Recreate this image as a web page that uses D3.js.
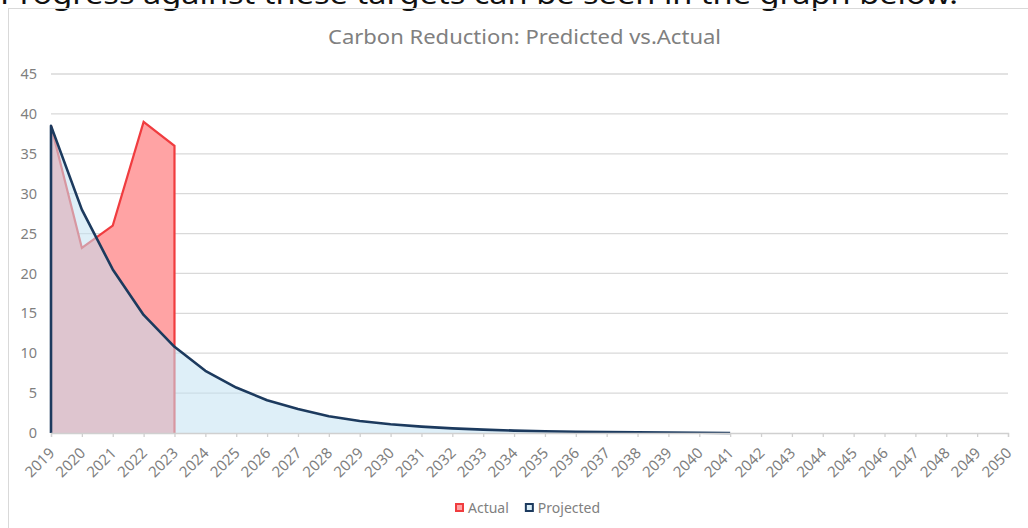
<!DOCTYPE html>
<html>
<head>
<meta charset="utf-8">
<script src="https://cdn.jsdelivr.net/npm/d3@7"></script>
<style>
  body { margin: 0; background: #fff; overflow: hidden; }
  text { font-family: "Noto Sans", "Open Sans", sans-serif; }
</style>
</head>
<body>
<div id="chart"></div>
<script>
// Tick labels / categories
var years = ["2019","2020","2021","2022","2023","2024","2025","2026","2027","2028",
  "2029","2030","2031","2032","2033","2034","2035","2036","2037","2038","2039",
  "2040","2041","2042","2043","2044","2045","2046","2047","2048","2049","2050"];

// Series values
var actualValues = [38.5, 23.2, 26, 39, 36];
var projectedValues = [38.5, 28, 20.5, 14.8, 10.8, 7.8, 5.7, 4.1, 3.0, 2.1, 1.5,
  1.1, 0.8, 0.58, 0.42, 0.3, 0.22, 0.16, 0.11, 0.08, 0.05, 0.03, 0.0];

var yTicks = [0, 5, 10, 15, 20, 25, 30, 35, 40, 45];

var W = 1028, H = 528;
var margin = {top: 74, right: 20, bottom: 95, left: 51};
var plotW = 1008 - margin.left,
    plotH = 433 - margin.top;

var svg = d3.select("#chart").append("svg")
  .attr("width", W)
  .attr("height", H);

// page text above the chart, mostly cut off
svg.append("text")
  .attr("x", 0)
  .attr("y", 4)
  .attr("font-size", 27)
  .attr("fill", "#111")
  .attr("textLength", 958)
  .attr("lengthAdjust", "spacingAndGlyphs")
  .text("Progress against these targets can be seen in the graph below.");

// chart frame
svg.append("rect")
  .attr("x", 8.5).attr("y", 8.5)
  .attr("width", 1100).attr("height", 600)
  .attr("fill", "none")
  .attr("stroke", "#d9d9d9");

svg.append("text")
  .attr("x", 328)
  .attr("y", 44)
  .attr("font-size", 20)
  .attr("fill", "#808080")
  .attr("textLength", 393)
  .attr("lengthAdjust", "spacingAndGlyphs")
  .text("Carbon Reduction: Predicted vs.Actual");

var g = svg.append("g")
  .attr("transform", "translate(" + margin.left + "," + margin.top + ")");

// Scales
var x = d3.scalePoint().domain(years).range([0, plotW]);
var y = d3.scaleLinear().domain([0, 45]).range([plotH, 0]);

// gridlines
g.selectAll(".grid").data(yTicks.slice(1)).enter()
  .append("line")
  .attr("x1", 0).attr("x2", plotW)
  .attr("y1", function(d) { return y(d); })
  .attr("y2", function(d) { return y(d); })
  .attr("stroke", "#d9d9d9")
  .attr("stroke-width", 1.3);

var actual = actualValues.map(function(v, i) { return {year: years[i], value: v}; });
var projected = projectedValues.map(function(v, i) { return {year: years[i], value: v}; });

var area = d3.area()
  .x(function(d) { return x(d.year); })
  .y0(y(0))
  .y1(function(d) { return y(d.value); });

var line = d3.line()
  .x(function(d) { return x(d.year); })
  .y(function(d) { return y(d.value); });

// Actual area
g.append("path")
  .datum(actual)
  .attr("d", area)
  .attr("fill", "#ffa3a4");

g.append("path")
  .datum(actual.concat([{year: actual[actual.length - 1].year, value: 0}]))
  .attr("d", line)
  .attr("fill", "none")
  .attr("stroke", "#f03c3f")
  .attr("stroke-width", 2.2);

// Projected area (semi transparent, on top)
g.append("path")
  .datum(projected)
  .attr("d", area)
  .attr("fill", "rgb(194,226,242)")
  .attr("fill-opacity", 0.55);

g.append("path")
  .datum([{year: projected[0].year, value: 0}].concat(projected))
  .attr("d", line)
  .attr("fill", "none")
  .attr("stroke", "#1c3a5e")
  .attr("stroke-width", 2.6)
  .attr("stroke-linejoin", "round");

// X axis
var xAxis = d3.axisBottom(x).tickSize(4).tickPadding(6);
var gx = g.append("g")
  .attr("class", "x axis")
  .attr("transform", "translate(0," + plotH + ")")
  .call(xAxis);
gx.select(".domain").attr("stroke", "#d0d0d0").attr("stroke-width", 1.3);
gx.selectAll(".tick line").attr("stroke", "#d0d0d0").attr("stroke-width", 1.3);
gx.selectAll(".tick text")
  .attr("font-size", 15)
  .attr("fill", "#7f7f7f")
  .attr("text-anchor", "end")
  .attr("x", 0)
  .attr("y", 0)
  .attr("dy", null)
  .attr("transform", "translate(4,21) rotate(-45)");

// Y axis
var yAxis = d3.axisLeft(y).tickValues(yTicks).tickSize(0).tickPadding(14);
var gy = g.append("g")
  .attr("class", "y axis")
  .call(yAxis);
gy.select(".domain").remove();
gy.selectAll(".tick text")
  .attr("font-size", 14.5)
  .attr("fill", "#7f7f7f");

// Legend
var legendItems = [
  {name: "Actual", fill: "#ffa3a4", stroke: "#f03c3f"},
  {name: "Projected", fill: "rgb(218,238,248)", stroke: "#1c3a5e"}
];
var legend = svg.append("g").attr("transform", "translate(455,503)");
var lx = 0;
legendItems.forEach(function(d) {
  var item = legend.append("g").attr("transform", "translate(" + lx + ",0)");
  item.append("rect")
    .attr("x", 1).attr("y", 1)
    .attr("width", 7).attr("height", 7)
    .attr("fill", d.fill)
    .attr("stroke", d.stroke)
    .attr("stroke-width", 2);
  var t = item.append("text")
    .attr("x", 13).attr("y", 10)
    .attr("font-size", 14)
    .attr("fill", "#7f7f7f")
    .text(d.name);
  lx += 13 + t.node().getComputedTextLength() + 16;
});
</script>
</body>
</html>
